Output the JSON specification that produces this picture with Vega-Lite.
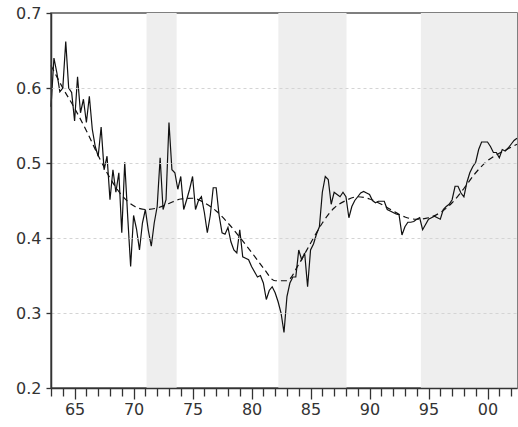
{
  "$schema": "https://vega.github.io/schema/vega-lite/v6.json",
  "width": 466,
  "height": 375,
  "autosize": "none",
  "padding": {"left": 51, "top": 13, "right": 1, "bottom": 39},
  "background": "white",
  "config": {
    "view": {"stroke": "#555", "strokeWidth": 1.5},
    "font": "DejaVu Sans"
  },
  "datasets": {
    "shades": [
      {"start": 1971.1, "end": 1973.65},
      {"start": 1982.27, "end": 1988.05},
      {"start": 1994.35, "end": 2002.5}
    ],
    "series": [
      {"t": 1963.0, "v": 0.575}, {"t": 1963.25, "v": 0.640}, {"t": 1963.5, "v": 0.620}, {"t": 1963.75, "v": 0.595},
      {"t": 1964.0, "v": 0.600}, {"t": 1964.25, "v": 0.662}, {"t": 1964.5, "v": 0.600}, {"t": 1964.75, "v": 0.594},
      {"t": 1965.0, "v": 0.556}, {"t": 1965.25, "v": 0.615}, {"t": 1965.5, "v": 0.567}, {"t": 1965.75, "v": 0.585},
      {"t": 1966.0, "v": 0.554}, {"t": 1966.25, "v": 0.589}, {"t": 1966.5, "v": 0.545}, {"t": 1966.75, "v": 0.522},
      {"t": 1967.0, "v": 0.509}, {"t": 1967.25, "v": 0.548}, {"t": 1967.5, "v": 0.491}, {"t": 1967.75, "v": 0.509},
      {"t": 1968.0, "v": 0.451}, {"t": 1968.25, "v": 0.491}, {"t": 1968.5, "v": 0.461}, {"t": 1968.75, "v": 0.487},
      {"t": 1969.0, "v": 0.407}, {"t": 1969.25, "v": 0.501}, {"t": 1969.5, "v": 0.429}, {"t": 1969.75, "v": 0.362},
      {"t": 1970.0, "v": 0.430}, {"t": 1970.25, "v": 0.412}, {"t": 1970.5, "v": 0.384}, {"t": 1970.75, "v": 0.420},
      {"t": 1971.0, "v": 0.438}, {"t": 1971.25, "v": 0.410}, {"t": 1971.5, "v": 0.389}, {"t": 1971.75, "v": 0.420},
      {"t": 1972.0, "v": 0.442}, {"t": 1972.25, "v": 0.507}, {"t": 1972.5, "v": 0.438}, {"t": 1972.75, "v": 0.451},
      {"t": 1973.0, "v": 0.554}, {"t": 1973.25, "v": 0.491}, {"t": 1973.5, "v": 0.487}, {"t": 1973.75, "v": 0.465},
      {"t": 1974.0, "v": 0.482}, {"t": 1974.25, "v": 0.438}, {"t": 1974.5, "v": 0.451}, {"t": 1974.75, "v": 0.465},
      {"t": 1975.0, "v": 0.482}, {"t": 1975.25, "v": 0.438}, {"t": 1975.5, "v": 0.450}, {"t": 1975.75, "v": 0.455},
      {"t": 1976.0, "v": 0.434}, {"t": 1976.25, "v": 0.407}, {"t": 1976.5, "v": 0.430}, {"t": 1976.75, "v": 0.467},
      {"t": 1977.0, "v": 0.467}, {"t": 1977.25, "v": 0.430}, {"t": 1977.5, "v": 0.407}, {"t": 1977.75, "v": 0.405},
      {"t": 1978.0, "v": 0.414}, {"t": 1978.25, "v": 0.395}, {"t": 1978.5, "v": 0.384}, {"t": 1978.75, "v": 0.380},
      {"t": 1979.0, "v": 0.411}, {"t": 1979.25, "v": 0.375}, {"t": 1979.5, "v": 0.373}, {"t": 1979.75, "v": 0.371},
      {"t": 1980.0, "v": 0.362}, {"t": 1980.25, "v": 0.355}, {"t": 1980.5, "v": 0.348}, {"t": 1980.75, "v": 0.350},
      {"t": 1981.0, "v": 0.340}, {"t": 1981.25, "v": 0.318}, {"t": 1981.5, "v": 0.330}, {"t": 1981.75, "v": 0.335},
      {"t": 1982.0, "v": 0.327}, {"t": 1982.25, "v": 0.315}, {"t": 1982.5, "v": 0.300}, {"t": 1982.75, "v": 0.274},
      {"t": 1983.0, "v": 0.322}, {"t": 1983.25, "v": 0.340}, {"t": 1983.5, "v": 0.348}, {"t": 1983.75, "v": 0.348},
      {"t": 1984.0, "v": 0.384}, {"t": 1984.25, "v": 0.371}, {"t": 1984.5, "v": 0.380}, {"t": 1984.75, "v": 0.335},
      {"t": 1985.0, "v": 0.384}, {"t": 1985.25, "v": 0.392}, {"t": 1985.5, "v": 0.405}, {"t": 1985.75, "v": 0.415},
      {"t": 1986.0, "v": 0.461}, {"t": 1986.25, "v": 0.482}, {"t": 1986.5, "v": 0.478}, {"t": 1986.75, "v": 0.445},
      {"t": 1987.0, "v": 0.461}, {"t": 1987.25, "v": 0.458}, {"t": 1987.5, "v": 0.455}, {"t": 1987.75, "v": 0.461},
      {"t": 1988.0, "v": 0.455}, {"t": 1988.25, "v": 0.427}, {"t": 1988.5, "v": 0.442}, {"t": 1988.75, "v": 0.450},
      {"t": 1989.0, "v": 0.455}, {"t": 1989.25, "v": 0.460}, {"t": 1989.5, "v": 0.462}, {"t": 1989.75, "v": 0.460},
      {"t": 1990.0, "v": 0.458}, {"t": 1990.25, "v": 0.450}, {"t": 1990.5, "v": 0.447}, {"t": 1990.75, "v": 0.449},
      {"t": 1991.0, "v": 0.449}, {"t": 1991.25, "v": 0.449}, {"t": 1991.5, "v": 0.438}, {"t": 1991.75, "v": 0.436},
      {"t": 1992.0, "v": 0.434}, {"t": 1992.25, "v": 0.432}, {"t": 1992.5, "v": 0.431}, {"t": 1992.75, "v": 0.404},
      {"t": 1993.0, "v": 0.415}, {"t": 1993.25, "v": 0.421}, {"t": 1993.5, "v": 0.421}, {"t": 1993.75, "v": 0.422},
      {"t": 1994.0, "v": 0.425}, {"t": 1994.25, "v": 0.427}, {"t": 1994.5, "v": 0.411}, {"t": 1994.75, "v": 0.418},
      {"t": 1995.0, "v": 0.425}, {"t": 1995.25, "v": 0.427}, {"t": 1995.5, "v": 0.429}, {"t": 1995.75, "v": 0.427},
      {"t": 1996.0, "v": 0.425}, {"t": 1996.25, "v": 0.438}, {"t": 1996.5, "v": 0.442}, {"t": 1996.75, "v": 0.445},
      {"t": 1997.0, "v": 0.451}, {"t": 1997.25, "v": 0.469}, {"t": 1997.5, "v": 0.469}, {"t": 1997.75, "v": 0.460},
      {"t": 1998.0, "v": 0.455}, {"t": 1998.25, "v": 0.474}, {"t": 1998.5, "v": 0.487}, {"t": 1998.75, "v": 0.495},
      {"t": 1999.0, "v": 0.501}, {"t": 1999.25, "v": 0.518}, {"t": 1999.5, "v": 0.528}, {"t": 1999.75, "v": 0.528},
      {"t": 2000.0, "v": 0.528}, {"t": 2000.25, "v": 0.522}, {"t": 2000.5, "v": 0.514}, {"t": 2000.75, "v": 0.514},
      {"t": 2001.0, "v": 0.507}, {"t": 2001.25, "v": 0.518}, {"t": 2001.5, "v": 0.516}, {"t": 2001.75, "v": 0.520},
      {"t": 2002.0, "v": 0.525}, {"t": 2002.25, "v": 0.530}, {"t": 2002.5, "v": 0.533}
    ],
    "trend": [
      {"t": 1963, "v": 0.630}, {"t": 1964, "v": 0.600}, {"t": 1965, "v": 0.573}, {"t": 1966, "v": 0.543},
      {"t": 1967, "v": 0.510}, {"t": 1968, "v": 0.480}, {"t": 1969, "v": 0.457}, {"t": 1970, "v": 0.443},
      {"t": 1971, "v": 0.438}, {"t": 1972, "v": 0.440}, {"t": 1973, "v": 0.446}, {"t": 1974, "v": 0.452},
      {"t": 1975, "v": 0.453}, {"t": 1976, "v": 0.447}, {"t": 1977, "v": 0.436}, {"t": 1978, "v": 0.420},
      {"t": 1979, "v": 0.401}, {"t": 1980, "v": 0.381}, {"t": 1981, "v": 0.360}, {"t": 1982, "v": 0.343},
      {"t": 1983, "v": 0.343}, {"t": 1984, "v": 0.365}, {"t": 1985, "v": 0.393}, {"t": 1986, "v": 0.420},
      {"t": 1987, "v": 0.440}, {"t": 1988, "v": 0.450}, {"t": 1989, "v": 0.455}, {"t": 1990, "v": 0.452},
      {"t": 1991, "v": 0.445}, {"t": 1992, "v": 0.436}, {"t": 1993, "v": 0.428}, {"t": 1994, "v": 0.425},
      {"t": 1995, "v": 0.427}, {"t": 1996, "v": 0.434}, {"t": 1997, "v": 0.447}, {"t": 1998, "v": 0.466},
      {"t": 1999, "v": 0.487}, {"t": 2000, "v": 0.503}, {"t": 2001, "v": 0.513}, {"t": 2002, "v": 0.521},
      {"t": 2002.5, "v": 0.525}
    ]
  },
  "layer": [
    {
      "data": {"name": "shades"},
      "mark": {"type": "rect", "color": "#eeeeee"},
      "encoding": {
        "x": {
          "field": "start", "type": "quantitative",
          "scale": {"domain": [1963, 2002.5], "nice": false, "zero": false},
          "axis": {
            "values": [1963,1964,1965,1966,1967,1968,1969,1970,1971,1972,1973,1974,1975,1976,1977,1978,1979,1980,1981,1982,1983,1984,1985,1986,1987,1988,1989,1990,1991,1992,1993,1994,1995,1996,1997,1998,1999,2000,2001,2002],
            "tickCount": 60,
            "labelExpr": "datum.value % 5 == 0 ? slice(toString(datum.value), 2) : ''",
            "labelOverlap": false,
            "labelFlush": false,
            "labelFont": "DejaVu Sans",
            "labelFontSize": 16,
            "labelColor": "#333",
            "labelPadding": 2,
            "tickSize": {"condition": {"test": "datum.value % 5 == 0", "value": 11}, "value": 8},
            "tickColor": "#333",
            "tickWidth": 1.3,
            "domainColor": "#333",
            "domainWidth": 1.5,
            "grid": false,
            "zindex": 1,
            "title": null
          }
        },
        "x2": {"field": "end"}
      }
    },
    {
      "data": {"name": "series"},
      "mark": {"type": "line", "color": "#111", "strokeWidth": 1.2},
      "encoding": {
        "x": {"field": "t", "type": "quantitative"},
        "y": {
          "field": "v", "type": "quantitative",
          "scale": {"domain": [0.2, 0.7], "nice": false, "zero": false},
          "axis": {
            "values": [0.2, 0.3, 0.4, 0.5, 0.6, 0.7],
            "tickCount": 10,
            "format": ".1f",
            "labelFont": "DejaVu Sans",
            "labelFontSize": 16,
            "labelColor": "#333",
            "labelPadding": 5,
            "tickSize": 5,
            "tickColor": "#333",
            "tickWidth": 1.3,
            "domainColor": "#333",
            "domainWidth": 1.5,
            "grid": true,
            "gridColor": "#d4d4d4",
            "gridDash": [3, 3],
            "gridWidth": 1,
            "gridOpacity": {"condition": {"test": "datum.value < 0.25 || datum.value > 0.65", "value": 0}, "value": 1},
            "zindex": 1,
            "title": null
          }
        }
      }
    },
    {
      "data": {"name": "trend"},
      "mark": {"type": "line", "color": "#111", "strokeWidth": 1.2, "strokeDash": [6, 4], "interpolate": "monotone"},
      "encoding": {
        "x": {"field": "t", "type": "quantitative"},
        "y": {"field": "v", "type": "quantitative"}
      }
    }
  ]
}
